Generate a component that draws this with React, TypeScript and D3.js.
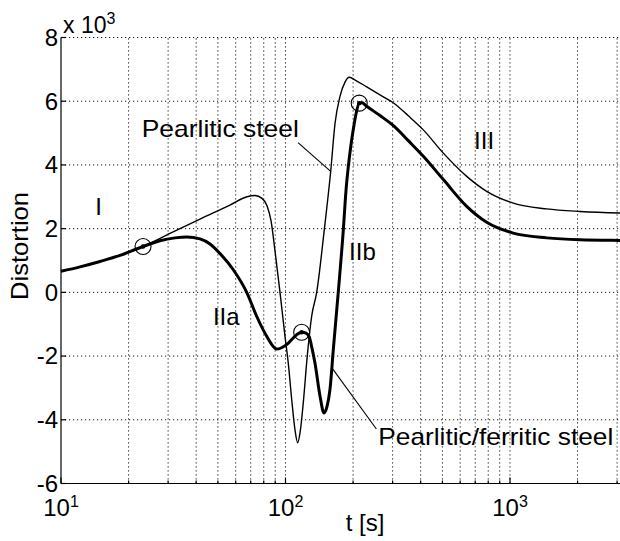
import React, { useEffect, useRef } from 'react'
import * as d3 from 'd3'

// values: t [s] and distortion in units of 10^3
const pearliticT = [10, 12.15, 14.92, 18.32, 23.19, 30.59, 41.6, 56.58, 67.4, 73.13, 78.6, 82.73, 86.19, 89.8, 94.53, 99.49, 102.9, 106.6, 110.2, 113.3, 116.4, 120, 125, 130.8, 137.7, 148.9, 159, 166.2, 174.9, 184.1, 192.4, 206.1, 230, 263.6, 305.2, 351.4, 411.1, 504.7, 641.5, 787.4, 1034, 1457, 2050, 3090, 5000]
const pearliticD = [0.66, 0.8, 0.97, 1.16, 1.44, 1.85, 2.3, 2.74, 3.0, 3.04, 2.95, 2.72, 2.25, 1.3, 0.0, -1.38, -2.22, -3.37, -4.31, -4.72, -4.35, -3.47, -2.0, -0.75, 0.0, 1.97, 3.8, 5.3, 6.15, 6.6, 6.75, 6.65, 6.45, 6.2, 5.93, 5.55, 5.1, 4.37, 3.64, 3.17, 2.8, 2.62, 2.54, 2.49, 2.47]

const ferriticT = [10, 12.15, 14.92, 18.32, 23.19, 27.61, 32.19, 36.31, 41.6, 46.11, 51.07, 58.54, 67.19, 74.4, 82.48, 91.38, 101.2, 112.2, 118.1, 123.4, 127.6, 131.2, 135.3, 142.5, 148.4, 153.5, 157.8, 163.3, 171.8, 181, 186.1, 190.5, 195.3, 200.4, 206.1, 213.2, 219.2, 230, 263.6, 305.2, 351.4, 411.1, 504.7, 641.5, 787.4, 1034, 1457, 2050, 3090, 5000]
const ferriticD = [0.66, 0.8, 0.97, 1.16, 1.44, 1.62, 1.71, 1.74, 1.68, 1.52, 1.22, 0.71, 0.0, -0.75, -1.38, -1.78, -1.64, -1.33, -1.25, -1.28, -1.4, -1.75, -2.22, -3.26, -3.79, -3.55, -3.05, -1.8, 0.0, 1.97, 3.22, 3.95, 4.58, 5.11, 5.6, 5.94, 5.95, 5.84, 5.55, 5.21, 4.77, 4.27, 3.54, 2.7, 2.2, 1.86, 1.71, 1.65, 1.63, 1.62]

const markerT = [23.2, 118, 213]
const markerD = [1.44, -1.25, 5.94]

const yTicks = [-6, -4, -2, 0, 2, 4, 6, 8]
const xMajor = [10, 100, 1000]
const xExp = ['1', '2', '3']

const regionNames = ['I', 'IIa', 'IIb', 'III']
const regionT = [14.2, 47.5, 192, 692]
const regionD = [2.44, -1.01, 1.03, 4.51]

const FONT = '"Liberation Sans", Arial, Helvetica, sans-serif'

function drawChart(el: SVGSVGElement) {
  const svg = d3.select(el)
  svg.selectAll('*').remove()

  const x = d3.scaleLog().domain([10, 5000]).range([61, 666.9])
  const y = d3.scaleLinear().domain([-6, 8]).range([483.5, 37.5])
  const [y0, y1] = y.range()
  const [x0, x1] = x.range()

  // grid
  const grid = svg.append('g')
    .attr('stroke', '#111')
    .attr('stroke-width', 1)
    .attr('stroke-dasharray', '1.2,2.8')
  grid.selectAll('line.v').data(x.ticks().filter(d => d > 10)).join('line')
    .attr('class', 'v')
    .attr('x1', d => x(d)).attr('x2', d => x(d))
    .attr('y1', y0).attr('y2', y1)
  grid.selectAll('line.h').data(yTicks.filter(d => d > -6)).join('line')
    .attr('class', 'h')
    .attr('x1', x0).attr('x2', x1)
    .attr('y1', d => y(d)).attr('y2', d => y(d))

  // axes
  const ax = svg.append('g').attr('stroke', '#000').attr('stroke-width', 1.2)
  ax.append('line').attr('x1', x0).attr('x2', x0).attr('y1', y0).attr('y2', y1)
  ax.append('line').attr('x1', x0).attr('x2', x1).attr('y1', y0).attr('y2', y0)
  ax.selectAll('line.yt').data(yTicks).join('line')
    .attr('class', 'yt')
    .attr('x1', x0).attr('x2', x0 + 5)
    .attr('y1', d => y(d)).attr('y2', d => y(d))
  ax.selectAll('line.xt').data(x.ticks()).join('line')
    .attr('class', 'xt')
    .attr('x1', d => x(d)).attr('x2', d => x(d))
    .attr('y1', y0).attr('y2', d => y0 - (xMajor.includes(d) ? 6 : 3))

  // tick labels
  svg.selectAll('text.yl').data(yTicks).join('text')
    .attr('class', 'yl')
    .attr('x', x0 - 3).attr('y', d => y(d)).attr('dy', '0.35em')
    .attr('text-anchor', 'end')
    .style('font-family', FONT).style('font-size', '24px')
    .text(d => d)

  const xl = svg.selectAll('text.xl').data(xMajor).join('text')
    .attr('class', 'xl')
    .attr('x', d => x(d)).attr('y', 516)
    .attr('text-anchor', 'middle')
    .style('font-family', FONT).style('font-size', '24px')
  xl.append('tspan').text('10')
  xl.append('tspan').attr('dy', -9).style('font-size', '16px').text((d, i) => xExp[i])

  const mult = svg.append('text').attr('x', 63).attr('y', 33)
    .style('font-family', FONT).style('font-size', '23px')
  mult.append('tspan').text('x 10')
  mult.append('tspan').attr('dy', -9).style('font-size', '16px').text('3')

  svg.append('text')
    .attr('transform', 'translate(28,246) rotate(-90)')
    .attr('text-anchor', 'middle')
    .attr('textLength', 108).attr('lengthAdjust', 'spacingAndGlyphs')
    .style('font-family', FONT).style('font-size', '24px')
    .text('Distortion')

  svg.append('text')
    .attr('x', 365).attr('y', 531)
    .attr('text-anchor', 'middle')
    .style('font-family', FONT).style('font-size', '24px')
    .text('t [s]')

  // curves
  const line = d3.line<[number, number]>()
    .x(d => x(d[0])).y(d => y(d[1]))
    .curve(d3.curveMonotoneX)

  svg.append('path')
    .datum(pearliticT.map((t, i) => [t, pearliticD[i]] as [number, number]))
    .attr('fill', 'none').attr('stroke', '#000').attr('stroke-width', 1.4)
    .attr('d', line)
  svg.append('path')
    .datum(ferriticT.map((t, i) => [t, ferriticD[i]] as [number, number]))
    .attr('fill', 'none').attr('stroke', '#000').attr('stroke-width', 3)
    .attr('stroke-linejoin', 'round')
    .attr('d', line)

  // transition markers
  const mk = svg.selectAll('g.mk').data(markerT).join('g').attr('class', 'mk')
  mk.append('circle')
    .attr('cx', d => x(d)).attr('cy', (d, i) => y(markerD[i])).attr('r', 8)
    .attr('fill', 'none').attr('stroke', '#000').attr('stroke-width', 1.1)
  mk.append('circle')
    .attr('cx', d => x(d)).attr('cy', (d, i) => y(markerD[i])).attr('r', 2.2)
    .attr('fill', '#000')

  // leaders
  const lead = svg.append('g').attr('stroke', '#000').attr('stroke-width', 1.1)
  lead.append('line')
    .attr('x1', x(113.7)).attr('y1', y(4.7))
    .attr('x2', x(159)).attr('y2', y(3.8))
  lead.append('line')
    .attr('x1', x(161)).attr('y1', y(-2.37))
    .attr('x2', x(254)).attr('y2', y(-4.29))

  // labels
  svg.append('text')
    .attr('x', x(22.9)).attr('y', y(4.87))
    .attr('textLength', 157).attr('lengthAdjust', 'spacingAndGlyphs')
    .style('font-family', FONT).style('font-size', '24px')
    .text('Pearlitic steel')
  svg.append('text')
    .attr('x', x(259)).attr('y', y(-4.78))
    .attr('textLength', 235).attr('lengthAdjust', 'spacingAndGlyphs')
    .style('font-family', FONT).style('font-size', '24px')
    .text('Pearlitic/ferritic steel')

  svg.selectAll('text.rg').data(regionNames).join('text')
    .attr('class', 'rg')
    .attr('x', (d, i) => x(regionT[i])).attr('y', (d, i) => y(regionD[i]))
    .style('font-family', FONT).style('font-size', '24px')
    .text(d => d)
}

const App = () => {
  const ref = useRef<SVGSVGElement>(null)
  useEffect(() => {
    if (ref.current) drawChart(ref.current)
  })
  return (
    <svg ref={ref} width={620} height={541}
      style={{ position: 'absolute', left: 0, top: 0, background: '#fff' }} />
  )
}

export default App
